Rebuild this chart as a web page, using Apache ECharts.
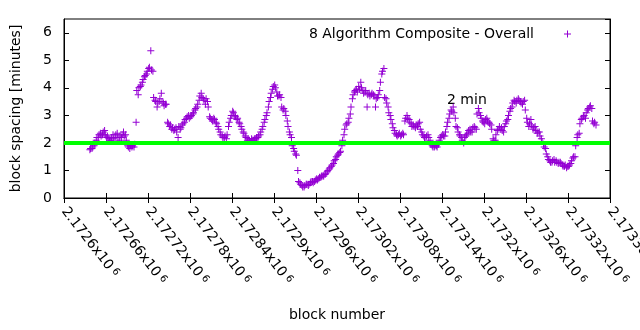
<!DOCTYPE html>
<html><head><meta charset="utf-8">
<script src="https://cdn.jsdelivr.net/npm/echarts@6/dist/echarts.min.js"></script>
<style>html,body{margin:0;padding:0;background:#fff}#c{width:640px;height:330px}</style>
</head><body><div id="c"></div>
<script>
// ---- data ----
const seriesName = '8 Algorithm Composite - Overall';
const referenceLevel = 2;
const referenceLabel = '2 min';
const xAxisTitle = 'block number';
const yAxisTitle = 'block spacing [minutes]';
// block spacing read every 3rd block, starting at firstBlock
const firstBlock = 2172637;
const blockStep = 3;
const spacingMinutes = [
  1.75,1.8,1.9,2.1,2.2,2.35,2.3,2.45,2.2,2.15,
  2.1,2.3,2.2,2.35,2.1,2.2,2.4,2.3,1.9,1.8,
  1.85,1.85,2.75,3.75,4.05,4.2,4.4,4.5,4.7,5.35,
  4.6,3.55,3.3,3.5,3.8,3.45,3.4,2.75,2.6,2.5,
  2.45,2.55,2.2,2.5,2.65,2.75,2.9,3.0,2.95,3.05,
  3.2,3.3,3.55,3.8,3.6,3.4,3.5,2.95,2.85,2.9,
  2.75,2.6,2.4,2.25,2.2,2.15,2.6,2.9,3.15,3.0,
  2.85,2.75,2.6,2.4,2.25,2.1,2.1,2.15,2.1,2.15,
  2.2,2.3,2.5,2.75,3.0,3.3,3.65,3.95,4.1,3.85,
  3.7,3.65,3.2,3.15,2.8,2.4,2.2,1.8,1.6,1.0,
  0.55,0.45,0.4,0.5,0.45,0.55,0.6,0.6,0.7,0.7,
  0.75,0.8,0.85,0.95,1.05,1.15,1.25,1.4,1.55,1.65,
  1.9,2.3,2.65,2.75,3.05,3.6,3.85,3.95,4.05,4.2,
  3.9,3.85,3.3,3.8,3.75,3.75,3.3,3.65,3.9,4.5,
  4.7,3.6,3.3,3.0,2.7,2.45,2.3,2.3,2.25,2.35,
  2.8,3.0,2.85,2.7,2.65,2.55,2.6,2.75,2.4,2.25,
  2.2,2.3,2.1,1.9,1.85,1.9,1.95,2.2,2.3,2.25,
  2.6,2.9,3.2,3.3,2.9,2.55,2.3,2.2,2.0,2.25,
  2.35,2.5,2.4,2.6,2.5,3.25,3.0,2.8,2.7,2.9,
  2.75,2.65,2.15,2.1,2.45,2.6,2.55,2.4,2.7,2.85,
  3.15,3.3,3.55,3.45,3.6,3.5,3.4,3.55,2.9,2.6,
  2.85,2.5,2.6,2.35,2.4,2.15,1.95,1.8,1.5,1.35,
  1.3,1.4,1.35,1.25,1.3,1.2,1.15,1.1,1.15,1.25,
  1.45,1.5,2.2,2.35,2.85,2.95,2.9,3.2,3.3,3.25,
  2.7,2.65
];
// the blocks in between (firstBlock + 1 + 3i), read from the spread of the point cloud
const secondBlock = 2172638;
const spacingMinutesBetween = [
  1.8,1.85,2.0,2.2,2.3,2.25,2.4,2.3,2.25,2.1,
  2.2,2.15,2.3,2.2,2.25,2.3,2.25,2.1,1.85,1.9,
  1.9,1.95,3.9,4.0,4.1,4.3,4.45,4.6,4.75,4.65,
  3.65,3.5,3.45,3.6,3.5,3.35,3.4,2.7,2.65,2.55,
  2.5,2.4,2.6,2.55,2.7,2.85,2.95,2.9,3.0,3.1,
  3.25,3.4,3.7,3.65,3.55,3.6,3.3,2.9,2.8,2.85,
  2.7,2.5,2.3,2.2,2.25,2.3,2.75,3.0,3.1,2.95,
  2.9,2.7,2.5,2.35,2.2,2.15,2.05,2.1,2.15,2.2,
  2.25,2.4,2.6,2.85,3.1,3.5,3.8,4.05,4.0,3.7,
  3.75,3.3,3.25,3.0,2.6,2.3,1.9,1.7,1.55,0.6,
  0.5,0.4,0.45,0.5,0.5,0.6,0.55,0.65,0.65,0.75,
  0.8,0.8,0.9,1.0,1.1,1.2,1.35,1.5,1.6,1.7,
  2.1,2.5,2.7,2.9,3.3,3.75,3.9,3.85,3.95,4.0,
  3.8,3.9,3.75,3.7,3.8,3.7,3.6,3.75,4.2,4.6,
  3.65,3.45,3.1,2.85,2.55,2.35,2.25,2.35,2.3,2.3,
  2.9,2.9,2.75,2.6,2.6,2.65,2.7,2.5,2.3,2.2,
  2.25,2.2,1.95,1.85,1.9,1.85,2.1,2.25,2.25,2.4,
  2.75,3.05,3.15,3.1,2.6,2.4,2.25,2.1,2.2,2.3,
  2.45,2.4,2.55,2.55,3.05,3.1,2.9,2.75,2.85,2.8,
  2.7,2.5,2.1,2.3,2.5,2.5,2.45,2.6,2.8,3.0,
  3.25,3.45,3.5,3.55,3.55,3.45,3.5,3.2,2.75,2.7,
  2.65,2.55,2.45,2.4,2.25,2.05,1.85,1.6,1.4,1.3,
  1.35,1.3,1.3,1.3,1.25,1.15,1.2,1.15,1.2,1.35,
  1.5,1.9,2.3,2.7,2.9,3.0,3.1,3.25,3.35,2.8,
  2.75
];
const xMin = 2172600, xMax = 2173380, xStep = 60;
const xTickMantissas = ['2.1726','2.17266','2.17272','2.17278','2.17284','2.1729','2.17296',
  '2.17302','2.17308','2.17314','2.1732','2.17326','2.17332','2.17338'];
const yMin = 0, yMax = 6.5, yStep = 1;
const yTickLabels = ['0','1','2','3','4','5','6'];

// ---- chart ----
const FONT = 'DejaVu Sans';
const PURPLE = '#9400d3';
const plusPath = 'path://M3,0H4V7H3ZM0,3H7V4H0Z';
const points = spacingMinutes.map((v, i) => [firstBlock + i * blockStep, v])
  .concat(spacingMinutesBetween.map((v, i) => [secondBlock + i * blockStep, v]))
  .sort((a, b) => a[0] - b[0]);

const chart = echarts.init(document.getElementById('c'), null, {renderer: 'canvas'});
const axisLineStyle = {color: '#000', width: 1};
chart.setOption({
  animation: false,
  backgroundColor: '#fff',
  textStyle: {fontFamily: FONT},
  grid: {left: 64, right: 30, top: 19, bottom: 132, containLabel: false, outerBoundsMode: 'none',
    show: true, borderColor: '#000', borderWidth: 1, backgroundColor: 'transparent'},
  legend: {
    right: 64, top: 22, align: 'right', itemWidth: 7, itemHeight: 7, itemGap: 0,
    selectedMode: false,
    data: [{name: seriesName, icon: plusPath}],
    formatter: function (n) { return '{t|' + n + '}{g|}'; },
    textStyle: {
      fontFamily: FONT, fontSize: 14, color: '#000',
      rich: {t: {fontFamily: FONT, fontSize: 14, color: '#000'}, g: {width: 25}}
    }
  },
  graphic: [{
    type: 'text', left: 447, top: 93, silent: true,
    style: {text: referenceLabel, font: '14px "' + FONT + '"', fill: '#000'}
  }],
  xAxis: [{
    type: 'value', position: 'bottom', min: xMin, max: xMax, interval: xStep,
    name: xAxisTitle, nameLocation: 'middle', nameGap: 110,
    nameTextStyle: {fontFamily: FONT, fontSize: 14, color: '#000'},
    axisLine: {show: true, lineStyle: axisLineStyle},
    axisTick: {show: true, inside: true, length: 5, lineStyle: axisLineStyle},
    splitLine: {show: false},
    axisLabel: {
      show: true, rotate: -52, margin: 11, color: '#000', showMaxLabel: true, showMinLabel: true,
      formatter: function (v) {
        const k = Math.round((v - xMin) / xStep);
        const m = xTickMantissas[k];
        return m ? '{m|' + m + 'x10}{s| 6}' : '';
      },
      rich: {
        m: {fontFamily: FONT, fontSize: 14, color: '#000'},
        s: {fontFamily: FONT, fontSize: 10, color: '#000', verticalAlign: 'top'}
      }
    }
  }, {
    type: 'value', position: 'top', min: xMin, max: xMax, interval: xStep,
    axisLine: {show: true, lineStyle: axisLineStyle},
    axisTick: {show: true, inside: true, length: 5, lineStyle: axisLineStyle},
    axisLabel: {show: false}, splitLine: {show: false}
  }],
  yAxis: [{
    type: 'value', position: 'left', min: yMin, max: yMax, interval: yStep,
    name: yAxisTitle, nameLocation: 'middle', nameGap: 41,
    nameTextStyle: {fontFamily: FONT, fontSize: 14, color: '#000'},
    axisLine: {show: true, lineStyle: axisLineStyle},
    axisTick: {show: true, inside: true, length: 5, lineStyle: axisLineStyle},
    splitLine: {show: false},
    axisLabel: {
      show: true, margin: 12, color: '#000', fontFamily: FONT, fontSize: 14, showMaxLabel: false,
      formatter: function (v) {
        const k = Math.round((v - yMin) / yStep);
        return (Math.abs(v - (yMin + k * yStep)) < 1e-9 && yTickLabels[k] !== undefined) ? yTickLabels[k] : '';
      }
    }
  }, {
    type: 'value', position: 'right', min: yMin, max: yMax, interval: yStep,
    axisLine: {show: true, lineStyle: axisLineStyle},
    axisTick: {show: true, inside: true, length: 5, lineStyle: axisLineStyle},
    axisLabel: {show: false}, splitLine: {show: false}
  }],
  series: [{
    name: seriesName, type: 'scatter', xAxisIndex: 0, yAxisIndex: 0,
    data: points, symbol: plusPath, symbolSize: 7,
    itemStyle: {color: PURPLE, opacity: 1},
    emphasis: {disabled: true}, silent: true, z: 2,
    markLine: {
      silent: true, symbol: ['none', 'none'], animation: false,
      label: {show: false},
      lineStyle: {color: '#00ff00', width: 4, type: 'solid', opacity: 1},
      emphasis: {disabled: true},
      data: [{yAxis: referenceLevel}]
    }
  }]
});
</script>
</body></html>
